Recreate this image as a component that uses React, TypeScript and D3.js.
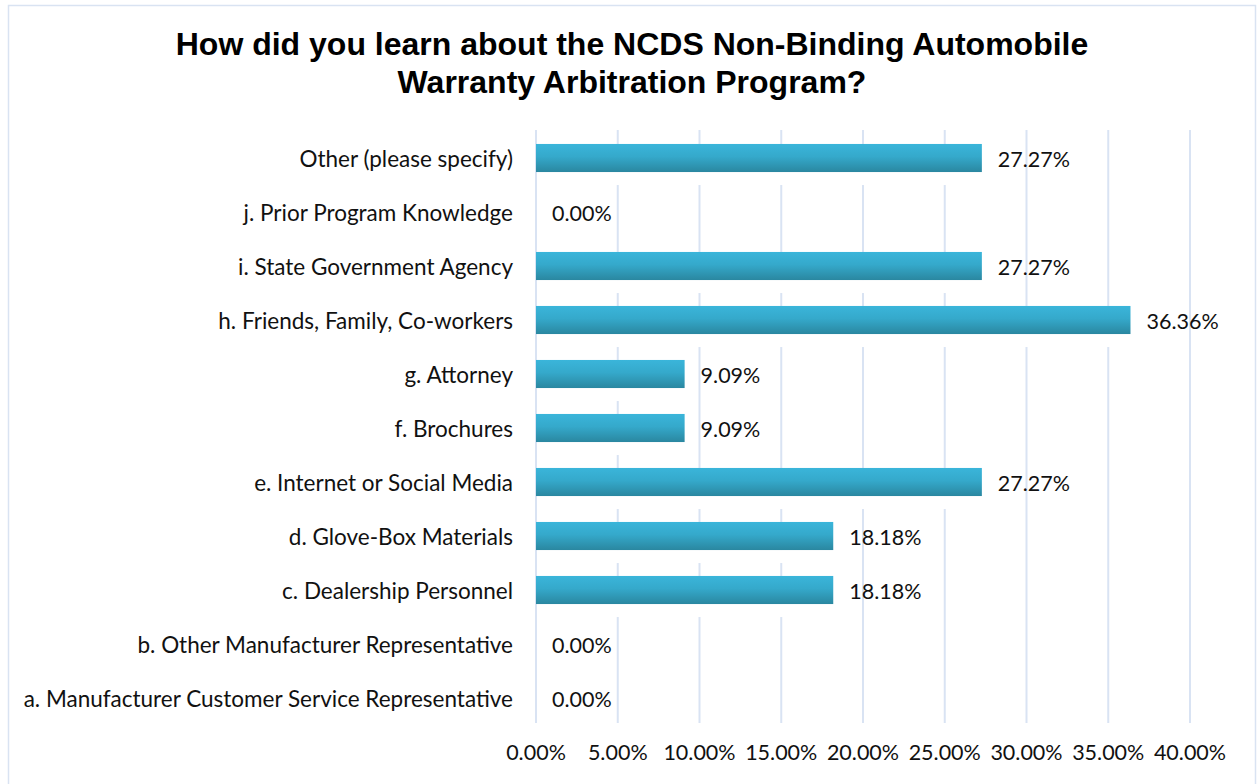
import React from "react";
import * as d3 from "d3";

const categories = [
  "Other (please specify)",
  "j. Prior Program Knowledge",
  "i. State Government Agency",
  "h. Friends, Family, Co-workers",
  "g. Attorney",
  "f. Brochures",
  "e. Internet or Social Media",
  "d. Glove-Box Materials",
  "c. Dealership Personnel",
  "b. Other Manufacturer Representative",
  "a. Manufacturer Customer Service Representative",
];

const values = [27.27, 0, 27.27, 36.36, 9.09, 9.09, 27.27, 18.18, 18.18, 0, 0];

const xTicks = [0, 5, 10, 15, 20, 25, 30, 35, 40];

const titleLines = [
  "How did you learn about the NCDS Non-Binding Automobile",
  "Warranty Arbitration Program?",
];

const W = 1257;
const H = 784;
const plot = { left: 536, right: 1190, top: 131, bottom: 725 };
const labelFont = "Lato, 'Open Sans', sans-serif";

export default function App() {
  const x = d3.scaleLinear().domain([0, 40]).range([plot.left, plot.right]);
  const y = d3
    .scaleBand<string>()
    .domain(categories)
    .range([plot.top, plot.bottom])
    .paddingInner(0.48)
    .paddingOuter(0.24);

  const data = categories.map((c, i) => ({ cat: c, value: values[i] }));

  return (
    <svg
      width={W}
      height={H}
      style={{ position: "absolute", left: 0, top: 0, background: "#fff" }}
    >
      <defs>
        <linearGradient id="barGrad" x1="0" y1="0" x2="0" y2="1">
          <stop offset="0%" stopColor="#3ab5da" />
          <stop offset="45%" stopColor="#35a9cb" />
          <stop offset="100%" stopColor="#2a87a0" />
        </linearGradient>
      </defs>

      {/* chart border */}
      <rect
        x={8.5}
        y={5.5}
        width={1247}
        height={790}
        fill="#fff"
        stroke="#d9e3f2"
        strokeWidth={1.5}
      />

      {/* title */}
      {titleLines.map((t, i) => (
        <text
          key={t}
          x={632}
          y={55 + i * 38}
          textAnchor="middle"
          fontFamily="'Liberation Sans', Arial, sans-serif"
          fontWeight="bold"
          fontSize={32}
          fill="#000"
        >
          {t}
        </text>
      ))}

      {/* gridlines */}
      {xTicks.map((t) => (
        <line
          key={t}
          x1={x(t)}
          x2={x(t)}
          y1={plot.top - 1}
          y2={plot.bottom - 2}
          stroke="#d9e3f3"
          strokeWidth={2}
        />
      ))}

      {/* bars */}
      {data.map((d) => {
        const by = y(d.cat) || 0;
        const bw = x(d.value) - x(0);
        return (
          <g key={d.cat}>
            {bw > 0 && (
              <rect
                x={x(0) + 1}
                y={by + y.bandwidth()}
                width={bw - 1}
                height={13}
                fill="#fff"
              />
            )}
            {bw > 0 && (
              <rect
                x={x(0)}
                y={by}
                width={bw}
                height={y.bandwidth()}
                fill="url(#barGrad)"
              />
            )}
            <text
              x={x(d.value) + 16}
              y={by + y.bandwidth() / 2 + 1}
              dominantBaseline="central"
              fontFamily={labelFont}
              fontSize={21.5}
              fill="#111"
            >
              {d.value.toFixed(2)}%
            </text>
            <text
              x={plot.left - 23}
              y={by + y.bandwidth() / 2}
              textAnchor="end"
              dominantBaseline="central"
              fontFamily={labelFont}
              fontSize={22.5}
              fill="#111"
            >
              {d.cat}
            </text>
          </g>
        );
      })}

      {/* x axis labels */}
      {xTicks.map((t) => (
        <text
          key={t}
          x={x(t)}
          y={752}
          textAnchor="middle"
          dominantBaseline="central"
          fontFamily={labelFont}
          fontSize={21.5}
          fill="#111"
        >
          {t.toFixed(2)}%
        </text>
      ))}
    </svg>
  );
}
